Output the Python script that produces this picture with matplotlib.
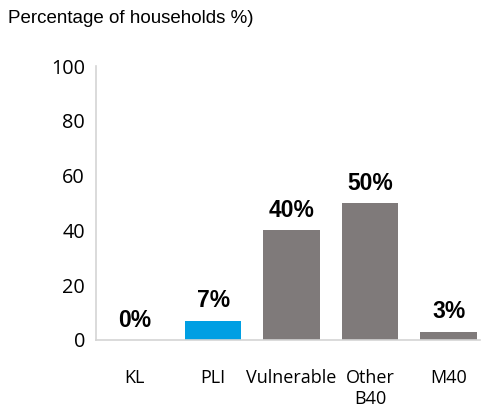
import matplotlib.pyplot as plt

categories = ["KL", "PLI", "Vulnerable", "Other\nB40", "M40"]
shares = [0, 7, 40, 50, 3]
bar_colors = ["#7f7a7a", "#009fe3", "#7f7a7a", "#7f7a7a", "#7f7a7a"]
y_ticks = [0, 20, 40, 60, 80, 100]

fig = plt.figure(figsize=(4.83, 4.11), dpi=100)
ax = fig.add_axes([0.199, 0.173, 0.795, 0.666])

x = range(len(categories))
bars = ax.bar(x, shares, width=0.72, color=bar_colors)

for rect, v in zip(bars, shares):
    ax.annotate(f"{v}%", (rect.get_x() + rect.get_width() / 2, v),
                xytext=(0, 6), textcoords="offset points",
                ha="center", va="bottom", fontsize=16.5, fontweight="bold",
                family="Liberation Sans")

ax.set_xlim(-0.49, 4.4)
ax.set_ylim(0, 100)
ax.set_yticks(y_ticks)
ax.set_xticks(list(x))
ax.set_xticklabels(categories, family="Open Sans", fontsize=13,
                   linespacing=1.2, va="top")
ax.set_yticklabels([str(t) for t in y_ticks], family="Open Sans", fontsize=14.3)
ax.tick_params(axis="x", length=0, pad=21)
ax.tick_params(axis="y", length=0, pad=8)

for side in ["top", "right"]:
    ax.spines[side].set_visible(False)
ax.spines["left"].set_color("#d4d4d4")
ax.spines["bottom"].set_color("#d4d4d4")
ax.spines["left"].set_linewidth(1.2)
ax.spines["bottom"].set_linewidth(1.2)

fig.text(0.017, 0.955, "Percentage of households %)", family="Liberation Sans",
         fontsize=13.5, ha="left", va="center")

fig.savefig("out.png", dpi=100)
